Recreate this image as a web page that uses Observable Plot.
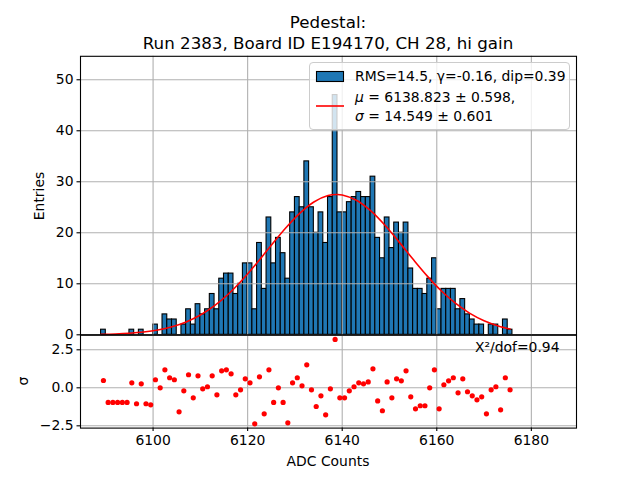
<!DOCTYPE html>
<html>
<head>
<meta charset="utf-8">
<script src="https://cdn.jsdelivr.net/npm/d3@7"></script>
<script src="https://cdn.jsdelivr.net/npm/@observablehq/plot@0.6"></script>
<style>
  body { margin: 0; background: white; font-family: "DejaVu Sans", sans-serif; }
  #wrap { position: relative; width: 640px; height: 480px; overflow: hidden; background: white; }
  #wrap svg { position: absolute; left: 0; }
  .abs { position: absolute; white-space: nowrap; color: black; line-height: 1; }
  .c { transform: translate(-50%, -50%); }
  .rot { transform: translate(-50%, -50%) rotate(-90deg); }
</style>
</head>
<body>
<div id="wrap"></div>
<script>
// ---- data ----
const bins = [6089,6090,6091,6092,6093,6094,6095,6096,6097,6098,6099,
  6100,6101,6102,6103,6104,6105,6106,6107,6108,6109,
  6110,6111,6112,6113,6114,6115,6116,6117,6118,6119,
  6120,6121,6122,6123,6124,6125,6126,6127,6128,6129,
  6130,6131,6132,6133,6134,6135,6136,6137,6138,6139,
  6140,6141,6142,6143,6144,6145,6146,6147,6148,6149,
  6150,6151,6152,6153,6154,6155,6156,6157,6158,6159,
  6160,6161,6162,6163,6164,6165,6166,6167,6168,6169,
  6170,6171,6172,6173,6174,6175];
const counts = [1,0,0,0,0,0,1,0,1,0,0,
  2,0,4,3,3,0,2,5,2,6,
  4,5,8,5,11,12,12,8,10,14,
  14,5,18,9,23,14,19,16,11,24,
  27,25,34,25,20,24,18,27,47,24,
  24,26,27,28,27,27,31,19,15,23,
  17,22,20,22,13,9,9,8,11,15,
  5,9,9,9,5,7,4,3,2,2,
  0,2,2,0,3,1];
const residuals = [0.48,-0.96,-0.96,-0.96,-0.96,-0.96,0.33,-1.05,0.26,-1.05,-1.12,
  0.53,0.0,1.18,0.66,0.53,-1.58,-0.2,0.86,-0.66,0.79,
  -0.07,0.07,0.79,-0.46,1.12,1.18,0.92,-0.46,-0.13,0.59,
  0.33,-2.37,0.72,-1.71,1.18,-0.96,0.0,-0.96,-2.3,0.33,
  0.66,0.13,1.51,-0.13,-1.23,-0.53,-1.78,-0.07,3.18,-0.66,
  -0.66,-0.2,0.07,0.33,0.26,0.39,1.25,-0.86,-1.51,0.39,
  -0.66,0.59,0.46,1.12,-0.59,-1.38,-1.18,-1.18,0.0,1.18,
  -1.38,0.2,0.46,0.66,-0.33,0.59,-0.26,-0.53,-0.79,-0.59,
  -1.71,-0.13,0.07,-1.45,0.66,-0.13];
// fitted curve
const fitX = [6089,6092,6095,6098,6101,6104,6107,6110,6113,6116,6119,6122,6125,6128,6131,6134,6137,6138.8,6140,6143,6146,6149,6152,6155,6158,6161,6164,6167,6170,6173,6175.5];
const fitY = [0.08,0.16,0.30,0.54,0.94,1.58,2.52,3.88,5.71,8.05,10.89,14.12,17.54,20.88,23.81,26.04,27.29,27.5,27.41,26.38,24.33,21.51,18.22,14.79,11.51,8.58,6.14,4.21,2.76,1.74,1.14];
const xTicks = [6100, 6120, 6140, 6160, 6180];
const yTicks = [0, 10, 20, 30, 40, 50];
const rTicks = [-2.5, 0, 2.5];
const titleLines = ["Pedestal:", "Run 2383, Board ID E194170, CH 28, hi gain"];
const legendHist = "RMS=14.5, γ=-0.16, dip=0.39";
const chiText = "X²/dof=0.94";

// ---- tables ----
const hist = bins.map((b, i) => ({b, c: counts[i]})).filter(d => d.c > 0);
const res = bins.map((b, i) => ({b, r: residuals[i]}));
const fit = fitX.map((x, i) => ({x, y: fitY[i]}));

const blue = "#1f77b4";
const gridStyle = {stroke: "#b0b0b0", strokeOpacity: 1, strokeWidth: 1.1};
const baseStyle = {fontFamily: "DejaVu Sans", fontSize: "13.9px", background: "transparent", color: "black", overflow: "visible"};
const xDomain = [6084.65, 6189.55];

const topPlot = Plot.plot({
  width: 640, height: 336,
  marginLeft: 80, marginRight: 64, marginTop: 55.8, marginBottom: 1.7,
  style: baseStyle,
  x: {domain: xDomain, axis: null},
  y: {domain: [0, 54.6]},
  marks: [
    Plot.rectY(hist, {x1: "b", x2: d => d.b + 1, y: "c", fill: blue, stroke: "black", strokeWidth: 1.1}),
    Plot.gridX(xTicks, gridStyle),
    Plot.gridY(yTicks, gridStyle),
    Plot.line(fit, {x: "x", y: "y", stroke: "red", strokeWidth: 1.6, curve: "catmull-rom"}),
    Plot.axisY(yTicks, {tickSize: 3.5, tickPadding: 3.5, label: null, tickFormat: d => String(d), strokeWidth: 1.1}),
    Plot.frame({stroke: "black", strokeWidth: 1.1})
  ]
});
topPlot.style.top = "0px";

const botPlot = Plot.plot({
  width: 640, height: 180,
  marginLeft: 80, marginRight: 64, marginTop: 34.7, marginBottom: 52.4,
  style: baseStyle,
  x: {domain: xDomain},
  y: {domain: [-2.65, 3.46]},
  marks: [
    Plot.gridX(xTicks, gridStyle),
    Plot.gridY(rTicks, gridStyle),
    Plot.dot(res, {x: d => d.b + 0.5, y: "r", r: 2.6, fill: "red"}),
    Plot.axisX(xTicks, {tickSize: 3.5, tickPadding: 3.5, label: null, tickFormat: d => String(d), strokeWidth: 1.1}),
    Plot.axisY(rTicks, {tickSize: 3.5, tickPadding: 3.5, label: null, tickFormat: d => d.toFixed(1).replace("-", "\u2212"), strokeWidth: 1.1}),
    Plot.text([chiText], {text: d => d, frameAnchor: "top-right", dx: -17, dy: 7, textAnchor: "end", lineAnchor: "top", fontSize: 13.9}),
    Plot.frame({stroke: "black", strokeWidth: 1.1})
  ]
});
botPlot.style.top = "300px";

const wrap = document.getElementById("wrap");
wrap.appendChild(topPlot);
wrap.appendChild(botPlot);

function addText(txt, x, y, cls, size, extra) {
  const d = document.createElement("div");
  d.className = "abs " + cls;
  d.style.left = x + "px";
  d.style.top = y + "px";
  d.style.fontSize = size + "px";
  if (extra) Object.assign(d.style, extra);
  d.textContent = txt;
  wrap.appendChild(d);
  return d;
}
addText(titleLines[0], 328, 22, "c", 16.7);
addText(titleLines[1], 328, 43, "c", 16.7);
addText("Entries", 40, 196, "rot", 13.9);
addText("σ", 24, 381, "rot", 13.9);
addText("ADC Counts", 328, 462, "c", 13.9);

// legend
const leg = document.createElement("div");
leg.className = "abs";
Object.assign(leg.style, {left: "309px", top: "62px", width: "259px", height: "66px",
  border: "1px solid #cccccc", borderRadius: "4px", background: "rgba(255,255,255,0.8)"});
leg.innerHTML =
  `<svg width="40" height="66" style="position:absolute;left:0;top:0">
     <rect x="6.5" y="8.5" width="27" height="10" fill="${blue}" stroke="black" stroke-width="1.1"></rect>
     <line x1="6" x2="34" y1="43" y2="43" stroke="red" stroke-width="1.6"></line>
   </svg>`;
wrap.appendChild(leg);
function legText(html, y) {
  const d = document.createElement("div");
  d.className = "abs";
  Object.assign(d.style, {left: "45px", top: y + "px", fontSize: "13.9px", transform: "translateY(-50%)"});
  d.innerHTML = html;
  leg.appendChild(d);
}
legText(legendHist, 14);
legText("<i>μ</i> = 6138.823 ± 0.598,", 35);
legText("<i>σ</i> = 14.549 ± 0.601", 54);
</script>
</body>
</html>
